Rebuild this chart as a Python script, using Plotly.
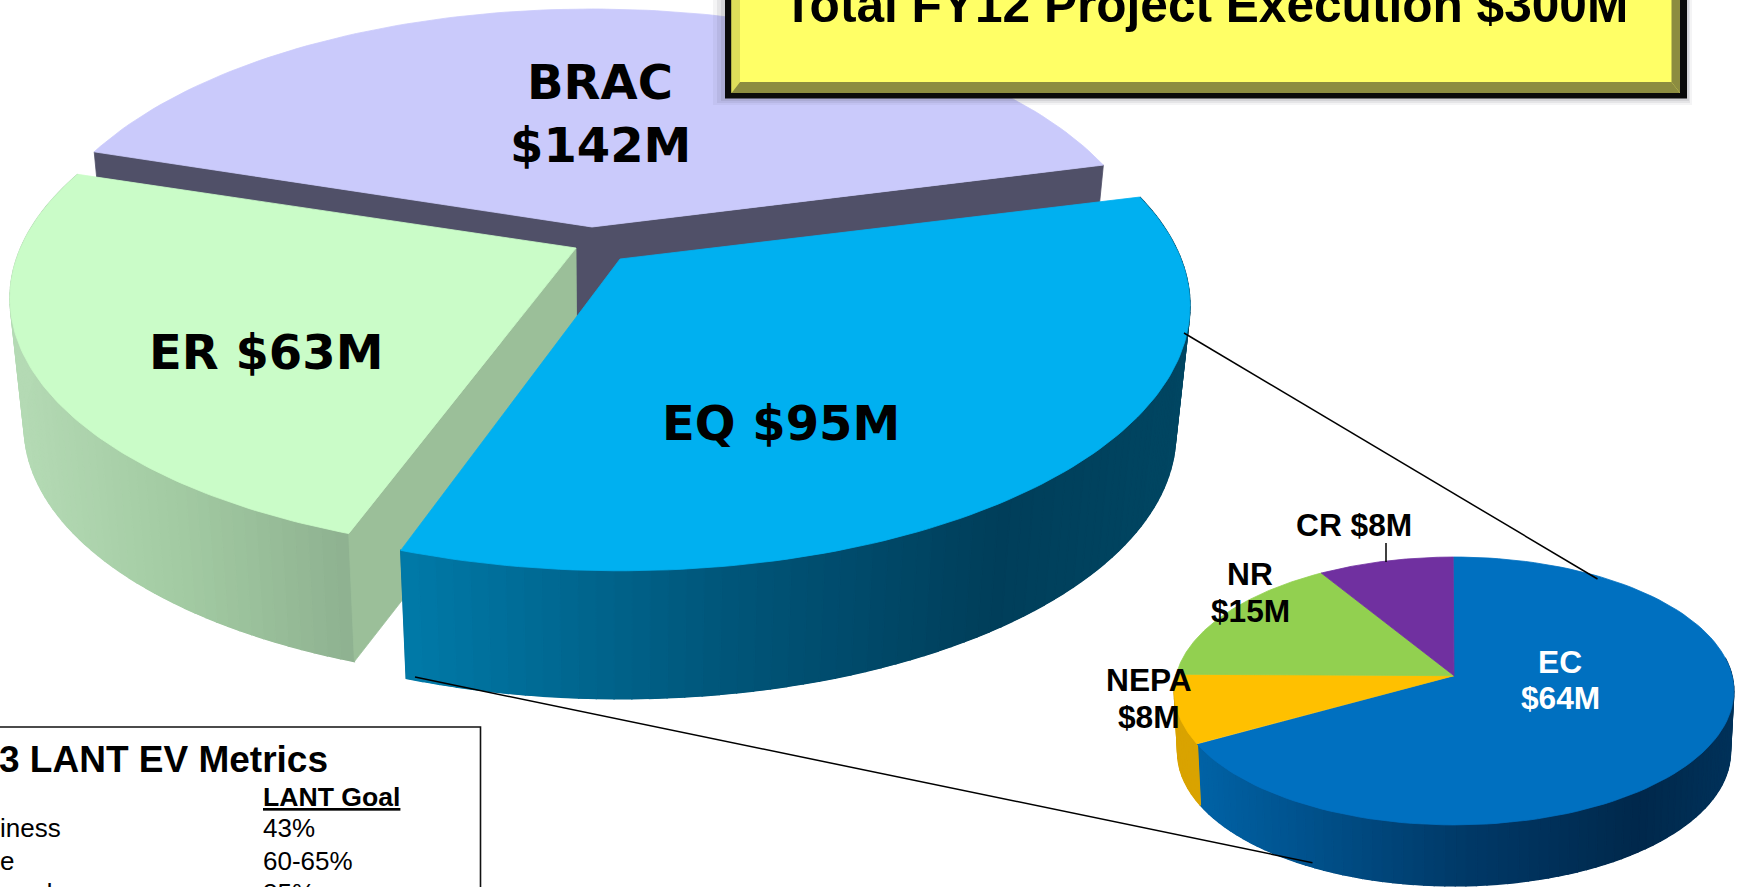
import math
import plotly.graph_objects as go

# ---- data ----
big_labels = ["EQ", "ER", "BRAC"]
big_values = [95, 63, 142]
small_labels = ["EC", "NEPA", "NR", "CR"]
small_values = [64, 8, 15, 8]
title_text = "Total FY12 Project Execution $300M"
metric_heading = "3 LANT EV Metrics"
metric_column = "LANT Goal"
metric_goals = ["43%", "60-65%", "85%"]
metric_names = ["iness", "e", "d"]

# ---- projection and style ----
BIG = dict(cx=0, cy=0, rx=561, ry=256.6, p=0.177, h=128, shrink=0.025, start=-3.57, warp=12.8, warp_at=26.88)
SMALL = dict(cx=1454, cy=675.7, rx=278, ry=132.2, p=0.114, h=61, shrink=0.012, start=-90, warp=2.2, warp_at=185)
# apex x, apex y, skew, x scale, y scale
APEX = {"EQ": (620, 259, 0, 1.0, 1.0), "ER": (576, 248, -9, 0.99, 0.98), "BRAC": (592, 227, 0, 0.984, 1.0)}
TOP = {"EQ": "#00B0F0", "ER": "#CAFCC8", "BRAC": "#CACAFB",
       "EC": "#0070C0", "NEPA": "#FFC000", "NR": "#92D050", "CR": "#7030A0"}
RAMP = {
    "EQ": [(404, (0, 122, 168)), (700, (0, 88, 125)), (1000, (0, 62, 90)), (1190, (0, 70, 98))],
    "ER": [(15, (180, 218, 180)), (180, (162, 202, 162)), (356, (141, 176, 143))],
    "EC": [(1200, (0, 98, 165)), (1456, (0, 58, 105)), (1640, (0, 40, 75)), (1736, (0, 50, 90))],
    "NEPA": [(1170, (217, 163, 0)), (1210, (217, 163, 0))],
}


def ramp_color(name, x):
    stops = RAMP[name]
    if x <= stops[0][0]:
        c = stops[0][1]
    elif x >= stops[-1][0]:
        c = stops[-1][1]
    else:
        for (x0, c0), (x1, c1) in zip(stops, stops[1:]):
            if x0 <= x <= x1:
                t = (x - x0) / (x1 - x0)
                c = tuple(a + (b - a) * t for a, b in zip(c0, c1))
                break
    return "rgb(%d,%d,%d)" % tuple(round(v) for v in c)


def point(cfg, alpha, depth=0.0, cx=None, cy=None, sk=0.0, rscale=1.0, yscale=1.0):
    cx = cfg["cx"] if cx is None else cx
    cy = cfg["cy"] if cy is None else cy
    b = alpha - cfg["warp"] * math.cos(math.radians(alpha - cfg["warp_at"]))
    u, v = math.cos(math.radians(b)), math.sin(math.radians(b))
    w = 1 - cfg["p"] * v
    s = 1 - cfg["shrink"] * depth
    return (cx + (cfg["rx"] * rscale * u + sk * v) / w * s,
            cy + cfg["ry"] * yscale * v / w + cfg["h"] * depth)


def spans(values, start):
    total = sum(values)
    out, a = [], start
    for val in values:
        b = a + 360 * val / total
        out.append((a, b))
        a = b
    return out


def arc(cfg, a0, a1, depth=0.0, n=120, **kw):
    return [point(cfg, a0 + (a1 - a0) * i / n, depth, **kw) for i in range(n + 1)]


def poly(fig, pts, color, width=0.8):
    fig.add_trace(go.Scatter(
        x=[p[0] for p in pts] + [pts[0][0]], y=[p[1] for p in pts] + [pts[0][1]],
        mode="lines", fill="toself", fillcolor=color, line=dict(color=color, width=width),
        hoverinfo="skip", showlegend=False))


def side(fig, cfg, name, a0, a1, n=70, **kw):
    # solid backing first so strip seams cannot show the page through
    mid = arc(cfg, a0, a1, 0, 100, **kw)
    poly(fig, mid + arc(cfg, a0, a1, 1, 100, **kw)[::-1],
         ramp_color(name, sum(p[0] for p in mid) / len(mid)), 0.5)
    for i in range(n):
        t0 = a0 + (a1 - a0) * i / n
        t1 = a0 + (a1 - a0) * (i + 1) / n
        top = arc(cfg, t0, t1, 0, 2, **kw)
        bot = arc(cfg, t0, t1, 1, 2, **kw)
        color = ramp_color(name, sum(p[0] for p in top) / len(top))
        poly(fig, top + bot[::-1], color, 1.4)


fig = go.Figure()
big = dict(zip(big_labels, spans(big_values, BIG["start"])))
kw = {k: dict(cx=APEX[k][0], cy=APEX[k][1], sk=APEX[k][2], rscale=APEX[k][3], yscale=APEX[k][4]) for k in big_labels}

# BRAC: dark cut faces, then its top
a0, a1 = big["BRAC"]
apex_top = (APEX["BRAC"][0], APEX["BRAC"][1])
apex_bot = (APEX["BRAC"][0], APEX["BRAC"][1] + BIG["h"])
poly(fig, [apex_top, point(BIG, a0, 0, **kw["BRAC"]), point(BIG, a0, 1, **kw["BRAC"]), apex_bot,
           point(BIG, a1, 1, **kw["BRAC"]), point(BIG, a1, 0, **kw["BRAC"])], "#505068")
poly(fig, [apex_top] + arc(BIG, a0, a1, **kw["BRAC"]), TOP["BRAC"])

# ER: rim, cut face, top
a0, a1 = big["ER"]
side(fig, BIG, "ER", a0, a1, **kw["ER"])
ap = (APEX["ER"][0], APEX["ER"][1])
poly(fig, [ap, point(BIG, a0, 0, **kw["ER"]), point(BIG, a0, 1, **kw["ER"]), (ap[0] + 1, ap[1] + BIG["h"])], "#9BBF99")
poly(fig, [ap] + arc(BIG, a0, a1, **kw["ER"]), TOP["ER"])

# EQ: rim, top
a0, a1 = big["EQ"]
side(fig, BIG, "EQ", a0, a1, n=90, **kw["EQ"])
poly(fig, [(APEX["EQ"][0], APEX["EQ"][1])] + arc(BIG, a0, a1, **kw["EQ"]), TOP["EQ"])

# small pie
small = dict(zip(small_labels, spans(small_values, SMALL["start"])))
side(fig, SMALL, "EC", max(small["EC"][0], -10), small["EC"][1], n=80)
side(fig, SMALL, "NEPA", *small["NEPA"], n=12)
for name in small_labels:
    poly(fig, [(SMALL["cx"], SMALL["cy"])] + arc(SMALL, *small[name]), TOP[name])

# title box and table frame
shapes = []
for dl, dr, db, op in [(12, 5, 7, 0.06), (8, 3, 5, 0.08), (4, 2, 3, 0.1)]:
    shapes.append(dict(type="rect", x0=725 - dl, x1=1687 + dr, y0=-10, y1=98 + db,
                       fillcolor="#404050", opacity=op, line_width=0))
shapes += [
    dict(type="rect", x0=725, x1=1687, y0=-10, y1=98.5, fillcolor="#0A0A0A", line_width=0),
    dict(type="rect", x0=731.5, x1=1680, y0=-10, y1=93, fillcolor="#FFFF66", line_width=0),
    dict(type="path", path="M731.5,-10 L740,-10 L740,82 L731.5,93 Z", fillcolor="#DEDE5A", line_width=0),
    dict(type="path", path="M731.5,93 L740,82 L1671.5,82 L1680,93 Z", fillcolor="#8C8C40", line_width=0),
    dict(type="path", path="M1671.5,-10 L1680,-10 L1680,93 L1671.5,82 Z", fillcolor="#8C8C40", line_width=0),
    dict(type="rect", x0=-10, x1=480.5, y0=727, y1=910, fillcolor="rgba(0,0,0,0)", line=dict(color="#111111", width=1.6)),
    dict(type="line", x0=1184, y0=333, x1=1597.5, y1=579, line=dict(color="black", width=1.5)),
    dict(type="line", x0=415, y0=677, x1=1312.5, y1=862.7, line=dict(color="black", width=1.5)),
    dict(type="line", x0=1386, y0=543, x1=1386, y1=562, line=dict(color="black", width=1.5)),
]
for s in shapes:
    s["xref"] = "x"
    s["yref"] = "y"
    s["layer"] = "above"

annotations = []


def txt(x, y, text, size, family="Liberation Sans", color="black", anchor="center"):
    annotations.append(dict(
        xref="paper", yref="paper", x=x / 1738, y=1 - y / 887, text=text, showarrow=False,
        xanchor=anchor, yanchor="middle", align="center" if anchor == "center" else "left",
        font=dict(family=family, size=size, color=color), borderpad=0, borderwidth=0))


DV = "DejaVu Sans"
txt(600, 82, "<b>BRAC</b>", 48, DV)
txt(600, 145, "<b>$142M</b>", 48, DV)
txt(266, 352, "<b>ER $63M</b>", 48, DV)
txt(781, 423, "<b>EQ $95M</b>", 48, DV)
txt(1205, 5, "<b>%s</b>" % title_text, 49.6)
txt(1560, 662, "<b>EC</b>", 31.7, color="white")
txt(1560, 698, "<b>$64M</b>", 31.7, color="white")
txt(1250, 574, "<b>NR</b>", 31.7)
txt(1250, 611, "<b>$15M</b>", 31.7)
txt(1149, 680, "<b>NEPA</b>", 31.7)
txt(1149, 717, "<b>$8M</b>", 31.7)
txt(1354, 525, "<b>CR $8M</b>", 31.7)
txt(-1, 759, "<b>%s</b>" % metric_heading, 37, anchor="left")
txt(263, 797, "<b><u>%s</u></b>" % metric_column, 26.6, anchor="left")
for yc, goal in zip([828, 861, 893], metric_goals):
    txt(263, yc, goal, 26, anchor="left")
for (xa, yc), name in zip([(0, 828), (0, 861), (38, 893)], metric_names):
    txt(xa, yc, name, 26, anchor="left")

fig.update_layout(
    width=1738, height=887, margin=dict(l=0, r=0, t=0, b=0, pad=0),
    paper_bgcolor="white", plot_bgcolor="white", showlegend=False,
    xaxis=dict(range=[0, 1738], visible=False, fixedrange=True),
    yaxis=dict(range=[887, 0], visible=False, fixedrange=True),
    shapes=shapes, annotations=annotations)

fig.write_html("out.html", config={"displayModeBar": False},
               post_script="document.body.style.margin='0';document.body.style.overflow='hidden';")
